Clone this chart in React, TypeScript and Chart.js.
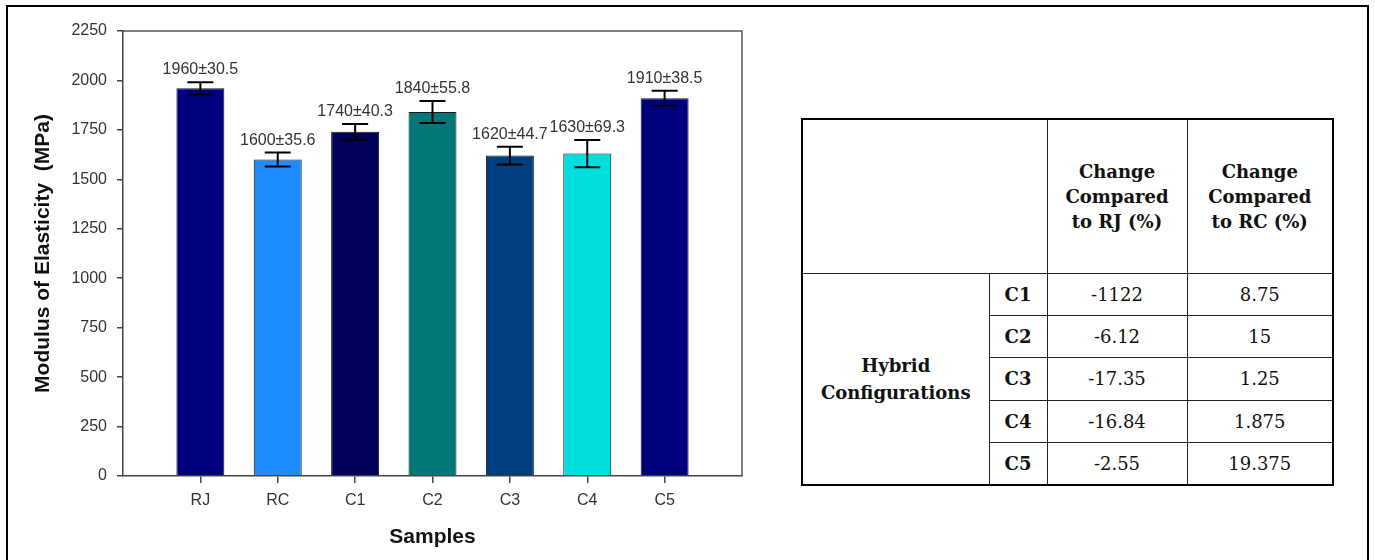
import React, { useEffect, useRef } from "react";
import { Chart, registerables } from "chart.js";

Chart.register(...registerables);

const SAMPLES = ["RJ", "RC", "C1", "C2", "C3", "C4", "C5"];
const MODULUS = [1960, 1600, 1740, 1840, 1620, 1630, 1910];
const ERRORS = [30.5, 35.6, 40.3, 55.8, 44.7, 69.3, 38.5];
const BAR_COLORS = ["#00007f", "#1e8cff", "#00005c", "#007878", "#003f7d", "#00dede", "#00007f"];
const Y_MIN = 0;
const Y_MAX = 2250;
const Y_STEP = 250;

const CONFIGS = ["C1", "C2", "C3", "C4", "C5"];
const CHANGE_RJ = ["-1122", "-6.12", "-17.35", "-16.84", "-2.55"];
const CHANGE_RC = ["8.75", "15", "1.25", "1.875", "19.375"];

const SANS = "'Liberation Sans', Arial, sans-serif";
const SERIF = "'DejaVu Serif', serif";

const framePlugin = {
  id: "frame",
  afterDatasetsDraw(chart: any) {
    const { ctx, chartArea } = chart;
    ctx.save();
    ctx.strokeStyle = "#555";
    ctx.lineWidth = 1.5;
    ctx.beginPath();
    ctx.moveTo(chartArea.left, chartArea.top);
    ctx.lineTo(chartArea.right, chartArea.top);
    ctx.lineTo(chartArea.right, chartArea.bottom);
    ctx.stroke();
    ctx.restore();
  },
};

const errorPlugin = {
  id: "errorBars",
  afterDatasetsDraw(chart: any) {
    const { ctx } = chart;
    const ys = chart.scales.y;
    const meta = chart.getDatasetMeta(0);
    ctx.save();
    meta.data.forEach((bar: any, i: number) => {
      const x = bar.x;
      const top = ys.getPixelForValue(MODULUS[i] + ERRORS[i]);
      const bot = ys.getPixelForValue(MODULUS[i] - ERRORS[i]);
      ctx.strokeStyle = "#000";
      ctx.lineWidth = 2;
      ctx.beginPath();
      ctx.moveTo(x, top);
      ctx.lineTo(x, bot);
      ctx.moveTo(x - 13, top);
      ctx.lineTo(x + 13, top);
      ctx.moveTo(x - 13, bot);
      ctx.lineTo(x + 13, bot);
      ctx.stroke();
      ctx.fillStyle = "#333";
      ctx.font = `16px ${SANS}`;
      ctx.textAlign = "center";
      ctx.textBaseline = "alphabetic";
      ctx.fillText(`${MODULUS[i]}±${ERRORS[i]}`, x, top - 8);
    });
    ctx.restore();
  },
};

function BarChart() {
  const ref = useRef<HTMLCanvasElement | null>(null);
  useEffect(() => {
    if (!ref.current) return;
    const chart = new Chart(ref.current, {
      type: "bar",
      data: {
        datasets: [
          {
            data: MODULUS.map((v, i) => ({ x: i + 1, y: v })),
            backgroundColor: BAR_COLORS,
            borderColor: "#1a1a1a",
            borderWidth: 1,
            categoryPercentage: 1,
            barPercentage: 0.62,
          },
        ],
      },
      options: {
        animation: false,
        responsive: false,
        layout: { padding: { left: 0, top: 31, right: 18, bottom: 0 } },
        plugins: { legend: { display: false }, tooltip: { enabled: false } },
        scales: {
          x: {
            type: "linear",
            min: 0,
            max: SAMPLES.length + 1,
            offset: false,
            afterBuildTicks: (s: any) => {
              s.ticks = SAMPLES.map((_, i) => ({ value: i + 1 }));
            },
            afterFit: (s: any) => {
              s.height = 84;
            },
            ticks: {
              autoSkip: false,
              maxRotation: 0,
              padding: 8,
              color: "#333",
              font: { family: SANS, size: 16 },
              callback: (v: any) => SAMPLES[Number(v) - 1] ?? "",
            },
            grid: { offset: false, drawOnChartArea: false, drawTicks: true, tickLength: 7, color: "#444", lineWidth: 1.5 },
            border: { color: "#444", width: 1.5 },
            title: {
              display: true,
              text: "Samples",
              color: "#111",
              font: { family: SANS, size: 21, weight: "bold" },
              padding: { top: 4, bottom: 10 },
            },
          },
          y: {
            min: Y_MIN,
            max: Y_MAX,
            afterFit: (s: any) => {
              s.width = 123;
            },
            ticks: {
              stepSize: Y_STEP,
              padding: 10,
              color: "#333",
              font: { family: SANS, size: 16 },
              callback: (v: any) => String(v),
            },
            grid: { drawOnChartArea: false, drawTicks: true, tickLength: 6, color: "#444", lineWidth: 1.5 },
            border: { color: "#444", width: 1.5 },
            title: {
              display: true,
              text: "Modulus of Elasticity  (MPa)",
              color: "#111",
              font: { family: SANS, size: 21, weight: "bold" },
              padding: { top: 31, bottom: 0 },
            },
          },
        },
      },
      plugins: [framePlugin, errorPlugin],
    } as any);
    return () => chart.destroy();
  }, []);
  return <canvas ref={ref} width={760} height={560} style={{ position: "absolute", left: 0, top: 0 }} />;
}

const cell: React.CSSProperties = {
  border: "1px solid #222",
  textAlign: "center",
  verticalAlign: "middle",
  padding: 0,
};

function ChangeTable() {
  return (
    <table
      style={{
        position: "absolute",
        left: 801,
        top: 118,
        width: 531,
        height: 366,
        borderCollapse: "collapse",
        tableLayout: "fixed",
        border: "2px solid #000",
        fontFamily: SERIF,
        fontSize: 18,
        color: "#111",
        lineHeight: "25px",
      }}
    >
      <colgroup>
        <col style={{ width: 187 }} />
        <col style={{ width: 58 }} />
        <col style={{ width: 140 }} />
        <col style={{ width: 146 }} />
      </colgroup>
      <tbody>
        <tr style={{ height: 154 }}>
          <td colSpan={2} style={cell}></td>
          <td style={{ ...cell, fontWeight: "bold" }}>
            Change
            <br />
            Compared
            <br />
            to RJ (%)
          </td>
          <td style={{ ...cell, fontWeight: "bold" }}>
            Change
            <br />
            Compared
            <br />
            to RC (%)
          </td>
        </tr>
        {CONFIGS.map((c, i) => (
          <tr key={c} style={{ height: 42.4 }}>
            {i === 0 && (
              <td rowSpan={CONFIGS.length} style={{ ...cell, fontWeight: "bold", lineHeight: "27px" }}>
                Hybrid
                <br />
                Configurations
              </td>
            )}
            <td style={{ ...cell, fontWeight: "bold" }}>{c}</td>
            <td style={cell}>{CHANGE_RJ[i]}</td>
            <td style={cell}>{CHANGE_RC[i]}</td>
          </tr>
        ))}
      </tbody>
    </table>
  );
}

export default function App() {
  return (
    <div
      style={{
        position: "absolute",
        left: 0,
        top: 0,
        width: 1375,
        height: 560,
        overflow: "hidden",
        background: "#fff",
      }}
    >
      <div
        style={{
          position: "absolute",
          left: 6,
          top: 5,
          width: 1363,
          height: 700,
          boxSizing: "border-box",
          border: "2px solid #000",
        }}
      />
      <BarChart />
      <ChangeTable />
    </div>
  );
}
